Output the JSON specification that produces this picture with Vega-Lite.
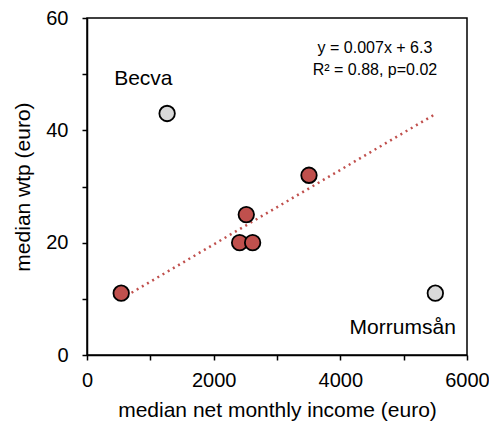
{
  "$schema": "https://vega.github.io/schema/vega-lite/v6.json",
  "width": 380,
  "height": 337,
  "autosize": {"type": "none"},
  "padding": {"left": 87, "top": 18, "right": 22, "bottom": 73},
  "background": "white",
  "config": {
    "view": {"stroke": "black", "strokeWidth": 1.5},
    "font": "Liberation Sans",
    "axis": {
      "grid": false,
      "domainColor": "black",
      "domainWidth": 1.5,
      "tickColor": "black",
      "tickWidth": 1.5,
      "tickSize": 5,
      "labelFont": "Liberation Sans",
      "labelFontSize": 20,
      "labelColor": "black",
      "titleFont": "Liberation Sans",
      "titleFontSize": 21,
      "titleFontWeight": "normal",
      "titleColor": "black"
    }
  },
  "layer": [
    {
      "data": {"values": [{"income": 540, "wtp": 10.0}, {"income": 5500, "wtp": 42.9}]},
      "mark": {"type": "line", "color": "#c0504d", "strokeWidth": 2.5, "strokeDash": [2, 4]},
      "encoding": {
        "x": {
          "field": "income", "type": "quantitative",
          "scale": {"domain": [0, 6000], "nice": false},
          "axis": {
            "values": [0, 500, 1000, 1500, 2000, 2500, 3000, 3500, 4000, 4500, 5000, 5500, 6000],
            "labelExpr": "datum.value % 2000 === 0 ? datum.label : ''",
            "format": "d",
            "labelPadding": 10,
            "labelFlush": false,
            "title": "median net monthly income (euro)",
            "titlePadding": 9
          }
        },
        "y": {
          "field": "wtp", "type": "quantitative",
          "scale": {"domain": [0, 60], "nice": false},
          "axis": {
            "values": [0, 10, 20, 30, 40, 50, 60],
            "labelExpr": "datum.value % 20 === 0 ? datum.label : ''",
            "labelPadding": 14,
            "labelFlush": false,
            "title": "median wtp (euro)",
            "titlePadding": 12
          }
        }
      }
    },
    {
      "data": {"values": [
        {"river": "a", "income": 540, "wtp": 11, "group": "included"},
        {"river": "Becva", "income": 1265, "wtp": 43, "group": "outlier"},
        {"river": "b", "income": 2410, "wtp": 20, "group": "included"},
        {"river": "c", "income": 2515, "wtp": 25, "group": "included"},
        {"river": "d", "income": 2615, "wtp": 20, "group": "included"},
        {"river": "e", "income": 3505, "wtp": 32, "group": "included"},
        {"river": "Morrumsån", "income": 5500, "wtp": 11, "group": "outlier"}
      ]},
      "mark": {"type": "point", "filled": true, "size": 240, "stroke": "black", "strokeWidth": 1.8, "opacity": 1},
      "encoding": {
        "x": {"field": "income", "type": "quantitative"},
        "y": {"field": "wtp", "type": "quantitative"},
        "color": {
          "field": "group", "type": "nominal",
          "scale": {"domain": ["included", "outlier"], "range": ["#c0504d", "#d9d9d9"]},
          "legend": null
        }
      }
    },
    {
      "data": {"values": [
        {"label": "Becva", "income": 890, "wtp": 48},
        {"label": "Morrumsån", "income": 4985, "wtp": 3.7}
      ]},
      "mark": {"type": "text", "fontSize": 21, "align": "center", "baseline": "alphabetic", "color": "black"},
      "encoding": {
        "x": {"field": "income", "type": "quantitative"},
        "y": {"field": "wtp", "type": "quantitative"},
        "text": {"field": "label"}
      }
    },
    {
      "data": {"values": [
        {"label": "y = 0.007x + 6.3", "income": 4547, "wtp": 53.8},
        {"label": "R² = 0.88, p=0.02", "income": 4547, "wtp": 49.8}
      ]},
      "mark": {"type": "text", "fontSize": 16, "align": "center", "baseline": "alphabetic", "color": "black"},
      "encoding": {
        "x": {"field": "income", "type": "quantitative"},
        "y": {"field": "wtp", "type": "quantitative"},
        "text": {"field": "label"}
      }
    }
  ]
}
